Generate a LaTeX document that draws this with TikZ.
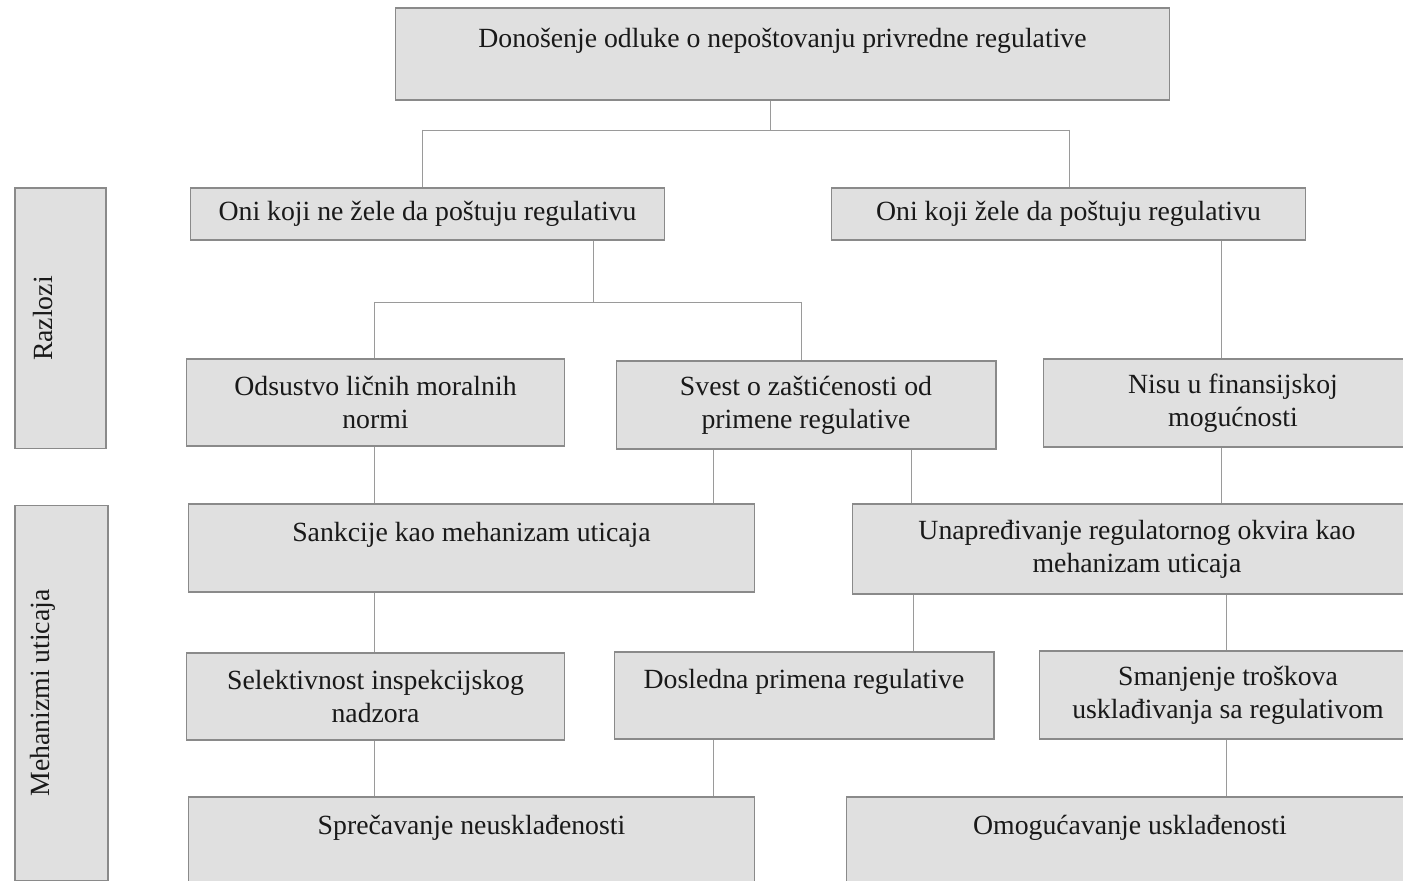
\documentclass[tikz,border=0pt]{standalone}
\usepackage{fontspec}
\setmainfont{Liberation Serif}
\definecolor{boxfill}{HTML}{E0E0E0}
\definecolor{boxline}{HTML}{8A8A8A}
\definecolor{linkline}{HTML}{9A9A9A}
\tikzset{
  box/.style={draw=boxline,fill=boxfill,line width=0.6pt,align=center,
    text=black!90,font=\fontsize{15.8}{18.6}\selectfont,inner sep=0pt},
  link/.style={draw=linkline,line width=0.5pt}
}
\begin{document}
\begin{tikzpicture}
 [x=0.02cm,y=-0.02cm]
  \clip (0,0) rectangle (1403,881);
  \fill[white] (0,0) rectangle (1403,881);

  % side labels
  \node[box,minimum width=1.82cm,minimum height=5.22cm] (razlozi) at (60.5,318.5) {\rotatebox{90}{Razlozi}\rule{0.7cm}{0pt}};
  \node[box,minimum width=1.86cm,minimum height=7.52cm] (mehanizmi) at (61.5,693) {\rotatebox{90}{Mehanizmi uticaja}\rule{0.76cm}{0pt}};

  % levels
  \node[box,minimum width=15.5cm,minimum height=1.84cm] (odluka) at (782.5,54) {Donošenje odluke o nepoštovanju privredne regulative\\ \mbox{}};
  \node[box,minimum width=9.5cm,minimum height=1.04cm] (nezele) at (427.5,214) {Oni koji ne žele da poštuju regulativu};
  \node[box,minimum width=9.5cm,minimum height=1.04cm] (zele) at (1068.5,214) {Oni koji žele da poštuju regulativu};

  \node[box,minimum width=7.58cm,minimum height=1.74cm] (moral) at (375.5,402.5) {Odsustvo ličnih moralnih\\ normi};
  \node[box,minimum width=7.6cm,minimum height=1.76cm] (svest) at (806,405) {Svest o zaštićenosti od\\ primene regulative};
  \node[box,minimum width=7.58cm,minimum height=1.76cm] (finans) at (1233,403) {Nisu u finansijskoj\\ mogućnosti};

  \node[box,minimum width=11.34cm,minimum height=1.76cm] (sankcije) at (471.5,548) {Sankcije kao mehanizam uticaja\\ \mbox{}};
  \node[box,minimum width=11.4cm,minimum height=1.8cm] (unapr) at (1137,549) {Unapređivanje regulatornog okvira kao\\ mehanizam uticaja};

  \node[box,minimum width=7.58cm,minimum height=1.74cm] (selekt) at (375.5,696.5) {Selektivnost inspekcijskog\\ nadzora};
  \node[box,minimum width=7.6cm,minimum height=1.74cm] (dosledna) at (804,695.5) {Dosledna primena regulative\\ \mbox{}};
  \node[box,minimum width=7.56cm,minimum height=1.76cm] (smanj) at (1228,695) {Smanjenje troškova\\ usklađivanja sa regulativom};

  \node[box,minimum width=11.34cm,minimum height=1.76cm] (sprec) at (471.5,841) {Sprečavanje neusklađenosti\\ \mbox{}};
  \node[box,minimum width=11.36cm,minimum height=1.76cm] (omog) at (1130,841) {Omogućavanje usklađenosti\\ \mbox{}};

  % branching
  \coordinate (s1) at (770,130);
  \coordinate (s1l) at (422,130);
  \coordinate (s1r) at (1069,130);
  \draw[link] (odluka.south -| s1) -- (s1);
  \draw[link] (s1l) -- (s1r);
  \draw[link] (s1l) -- (nezele.north -| s1l);
  \draw[link] (s1r) -- (zele.north -| s1r);

  \coordinate (s2) at (593,302);
  \coordinate (s2l) at (374,302);
  \coordinate (s2r) at (801,302);
  \draw[link] (nezele.south -| s2) -- (s2);
  \draw[link] (s2l) -- (s2r);
  \draw[link] (s2l) -- (moral.north -| s2l);
  \draw[link] (s2r) -- (svest.north -| s2r);

  % straight links
  \foreach \from/\to/\x in {zele/finans/1221,moral/sankcije/374,svest/sankcije/713,
    svest/unapr/911,finans/unapr/1221,sankcije/selekt/374,unapr/dosledna/913,
    unapr/smanj/1226,selekt/sprec/374,dosledna/sprec/713,smanj/omog/1226}
    \draw[link] (\from.south -| \x,0) -- (\to.north -| \x,0);
\end{tikzpicture}
\end{document}
